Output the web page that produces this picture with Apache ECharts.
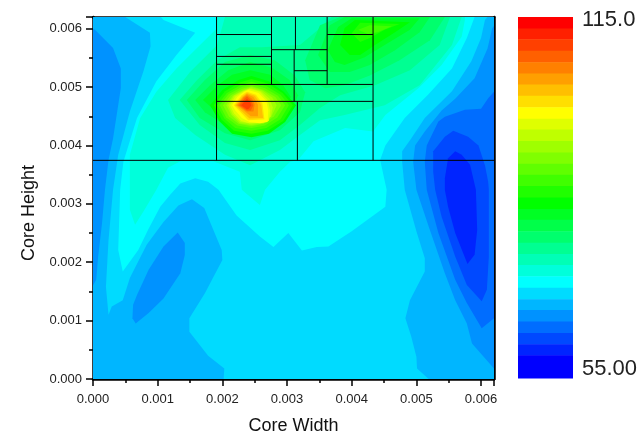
<!DOCTYPE html>
<html><head><meta charset="utf-8">
<style>html,body{margin:0;padding:0;background:#fff}#c{width:640px;height:435px}</style>
<script src="https://cdn.jsdelivr.net/npm/echarts@6/dist/echarts.min.js"></script>
</head><body><div id="c"></div>
<script>
// Colour scale, from the highest band (115) down to the lowest (55)
const bandColors = ['#ff0000','#ff2000','#ff4000','#ff6000','#ff8000','#ff9f00','#ffbf00','#ffdf00','#ffff00',
 '#dfff00','#bfff00','#9fff00','#80ff00','#60ff00','#40ff00','#20ff00','#00ff00',
 '#00ff24','#00ff49','#00ff6d','#00ff92','#00ffb6','#00ffdb','#00ffff',
 '#00dbff','#00b6ff','#0092ff','#006dff','#0049ff','#0024ff','#0000ff'];
const bandTops = [115,113.1,111.3,109.4,107.5,105.6,103.8,101.9,100,98.1,96.3,94.4,92.5,90.6,88.8,86.9,85,83.1,81.3,79.4,77.5,75.6,73.8,71.9,70,68.1,66.3,64.4,62.5,60.6,58.8];
const scaleMin = 55, scaleMax = 115;
const scaleLabels = ['115.0','55.00'];

const axisMax = 0.0062;
const xTitle = 'Core Width', yTitle = 'Core Height';

// Contour regions: vertices as [core width, core height] in units of 0.001, lowest layer first
const base24 = [[0,0],[6.2,0],[6.2,6.2],[0,6.2]];
const left25 = [[0,0],[2.02,0],[2.03,.18],[1.78,.40],[1.49,.81],[1.49,1.04],[1.73,1.47],[2.0,2.04],[1.99,2.21],[1.72,2.93],[1.53,3.08],[1.32,2.97],[1.09,2.69],[.83,2.30],[.57,1.73],[.46,1.35],[.29,1.24],[.24,1.10],[.20,1.58],[.24,2.38],[.31,3.24],[.39,3.84],[.57,4.58],[.78,5.27],[.89,5.70],[.88,5.93],[.57,6.15],[.5,6.2],[0,6.2]];
const left26 = [[0,1.6],[.05,1.7],[.08,2.1],[.14,2.67],[.185,3.24],[.24,3.75],[.31,4.12],[.43,4.98],[.43,5.32],[.31,5.67],[.03,5.98],[0,6.0]];
const island26 = [[1.31,2.51],[1.42,2.33],[1.42,2.13],[1.35,1.81],[1.09,1.38],[.86,1.13],[.66,.95],[.61,1.04],[.62,1.27],[.68,1.44],[.86,1.87],[1.09,2.27]];
const right25 = [[5.19,0],[5.01,.18],[5.0,.38],[4.92,.73],[4.83,1.04],[4.90,1.35],[5.13,1.84],[5.13,2.07],[5.0,2.53],[4.82,3.24],[4.78,3.72],[4.78,3.90],[4.92,4.12],[5.13,4.47],[5.55,4.93],[5.85,5.44],[6.0,5.84],[6.06,6.15],[6.1,6.2],[6.2,6.2],[6.2,0]];
const right26 = [[6.2,.18],[5.86,.61],[5.78,.95],[5.6,1.35],[5.44,1.81],[5.19,2.61],[5.0,3.24],[4.95,3.72],[4.98,4.0],[5.13,4.24],[5.39,4.6],[5.6,4.8],[5.9,5.15],[6.1,5.66],[6.17,6.0],[6.2,6.05]];
const right27 = [[6.01,.87],[6.2,1.04],[6.2,4.92],[6.11,4.81],[6.0,4.63],[5.75,4.61],[5.44,4.49],[5.34,4.41],[5.16,4.0],[5.13,3.72],[5.16,3.24],[5.34,2.5],[5.6,1.7],[5.78,1.3]];
const right28 = [[6.01,1.33],[6.09,1.53],[6.12,2.1],[6.12,3.24],[6.11,3.38],[6.06,3.66],[5.96,4.0],[5.8,4.15],[5.57,4.25],[5.44,4.15],[5.26,3.9],[5.26,3.55],[5.29,3.24],[5.39,2.78],[5.6,2.1],[5.78,1.61]];
const right29 = [[5.79,1.97],[5.9,2.13],[5.94,2.55],[5.92,3.24],[5.83,3.67],[5.7,3.84],[5.6,3.9],[5.49,3.78],[5.44,3.44],[5.44,3.24],[5.49,2.95],[5.6,2.5]];
const band23 = [[.46,1.84],[.39,2.21],[.42,3.24],[.47,3.72],[.68,4.47],[.98,5.1],[1.29,5.55],[1.58,5.93],[1.09,6.15],[1.05,6.2],[5.9,6.2],[5.78,5.84],[5.55,5.32],[5.18,4.87],[4.82,4.47],[4.52,4.0],[4.44,3.75],[4.54,3.24],[4.52,2.95],[4.0,2.53],[3.64,2.27],[3.46,2.26],[3.23,2.2],[3.02,2.5],[2.79,2.26],[2.58,2.44],[2.22,2.8],[1.94,3.24],[1.78,3.38],[1.58,3.44],[1.35,3.35],[1.19,3.15],[1.04,2.95],[.85,2.55],[.70,2.21]];
const band22 = [[.65,2.64],[.78,2.87],[.98,3.24],[1.16,3.62],[1.35,3.73],[1.86,3.73],[2.27,3.55],[2.3,3.24],[2.58,2.98],[2.66,3.24],[2.89,3.55],[3.05,3.72],[3.17,3.75],[3.41,4.07],[3.9,4.3],[4.33,4.24],[4.52,4.52],[5.03,4.98],[5.39,5.38],[5.7,5.86],[5.75,6.15],[5.75,6.2],[1.91,6.2],[1.91,6.0],[1.6,5.66],[1.29,5.32],[.98,4.92],[.73,4.47],[.57,3.84],[.57,3.24],[.57,2.9]];
const band21 = [[1.16,4.78],[1.5,5.26],[1.92,5.72],[2.04,6.2],[5.7,6.2],[5.55,5.72],[5.05,5.03],[4.51,4.69],[3.89,4.52],[3.51,4.43],[3.2,4.18],[2.89,3.92],[2.43,3.66],[2.04,3.84],[1.58,4.18],[1.27,4.47]];
const band20 = [[1.34,4.78],[1.61,5.12],[1.92,5.46],[2.27,5.68],[2.61,5.68],[3.2,5.72],[3.48,5.98],[3.69,6.2],[5.52,6.2],[5.36,5.72],[4.9,5.29],[4.36,5.03],[3.82,4.86],[3.51,4.64],[3.2,4.35],[2.89,4.09],[2.43,3.92],[2.04,4.04],[1.65,4.35]];
const top19 = [[3.28,5.46],[3.51,6.06],[3.82,6.2],[5.44,6.2],[5.21,5.8],[4.74,5.46],[4.28,5.2],[3.89,5.03],[3.59,4.98],[3.35,5.12]];
const top18 = [[3.48,5.55],[3.66,6.06],[3.89,6.2],[5.21,6.2],[5.05,5.94],[4.67,5.63],[4.28,5.38],[3.97,5.26],[3.66,5.26]];
const top17 = [[3.63,5.63],[3.79,6.03],[4.0,6.18],[5.05,6.18],[4.9,5.98],[4.51,5.72],[4.2,5.51],[3.89,5.38],[3.74,5.43]];
const top16 = [[3.82,5.72],[3.89,6.01],[4.05,6.15],[4.9,6.11],[4.67,5.94],[4.36,5.72],[4.13,5.55],[3.97,5.55]];
const top15 = [[4.0,5.92],[4.13,6.1],[4.74,6.08],[4.51,5.98],[4.28,5.84],[4.13,5.77]];
const top14 = [[4.1,5.98],[4.28,6.06],[4.62,6.04],[4.4,5.94],[4.25,5.91]];
const peak19 = [[1.45,4.78],[1.73,5.12],[2.04,5.43],[2.43,5.55],[2.81,5.46],[3.12,5.2],[3.28,4.91],[3.2,4.57],[2.89,4.26],[2.43,4.09],[2.04,4.21],[1.65,4.47]];
const peak18 = [[1.58,4.78],[1.81,5.03],[2.09,5.29],[2.43,5.43],[2.77,5.33],[3.04,5.12],[3.17,4.86],[3.08,4.61],[2.81,4.38],[2.43,4.23],[2.04,4.35],[1.73,4.57]];
const peak17 = [[1.7,4.78],[1.93,5.03],[2.15,5.21],[2.43,5.29],[2.74,5.21],[2.94,5.03],[3.06,4.83],[2.97,4.64],[2.74,4.47],[2.43,4.35],[2.09,4.47],[1.84,4.64]];
const peak16 = [[1.81,4.69],[2.0,4.95],[2.25,5.12],[2.45,5.19],[2.72,5.1],[2.95,4.92],[3.14,4.69],[2.97,4.4],[2.72,4.2],[2.45,4.14],[2.15,4.2],[1.95,4.42]];
const peak15 = [[1.87,4.69],[2.04,4.93],[2.27,5.08],[2.45,5.14],[2.7,5.06],[2.93,4.9],[3.09,4.69],[2.94,4.42],[2.7,4.25],[2.45,4.2],[2.18,4.25],[1.99,4.44]];
const peak14 = [[1.92,4.69],[2.07,4.9],[2.29,5.04],[2.45,5.09],[2.68,5.02],[2.9,4.87],[3.03,4.69],[2.9,4.45],[2.68,4.3],[2.45,4.25],[2.2,4.3],[2.03,4.46]];
const peak13 = [[1.96,4.69],[2.1,4.88],[2.3,5.0],[2.45,5.05],[2.66,4.98],[2.86,4.85],[2.97,4.69],[2.85,4.48],[2.66,4.34],[2.45,4.3],[2.23,4.34],[2.06,4.48]];
const peak12 = [[2.01,4.69],[2.13,4.86],[2.31,4.97],[2.45,5.02],[2.64,4.95],[2.82,4.83],[2.91,4.69],[2.8,4.5],[2.64,4.37],[2.45,4.33],[2.25,4.37],[2.1,4.5]];
const peak11 = [[2.06,4.69],[2.16,4.85],[2.32,4.95],[2.45,5.0],[2.62,4.94],[2.77,4.82],[2.84,4.69],[2.76,4.5],[2.64,4.38],[2.45,4.35],[2.27,4.38],[2.14,4.52]];
const peak10 = [[2.09,4.69],[2.18,4.85],[2.33,4.94],[2.44,4.98],[2.6,4.93],[2.73,4.8],[2.78,4.65],[2.75,4.5],[2.63,4.39],[2.45,4.37],[2.28,4.4],[2.16,4.53]];
const peak9 = [[2.12,4.69],[2.2,4.84],[2.33,4.93],[2.42,4.97],[2.58,4.92],[2.7,4.78],[2.74,4.6],[2.72,4.42],[2.6,4.4],[2.42,4.38],[2.29,4.42],[2.18,4.55]];
const peak8 = [[2.15,4.69],[2.23,4.83],[2.34,4.92],[2.4,4.95],[2.56,4.9],[2.68,4.76],[2.71,4.6],[2.7,4.4],[2.58,4.38],[2.42,4.4],[2.3,4.47],[2.2,4.6]];
const peak7 = [[2.18,4.69],[2.3,4.86],[2.38,4.92],[2.52,4.87],[2.62,4.72],[2.65,4.45],[2.4,4.43]];
const peak6 = [[2.2,4.69],[2.31,4.84],[2.38,4.9],[2.5,4.85],[2.6,4.7],[2.63,4.47],[2.42,4.46]];
const peak5 = [[2.22,4.69],[2.32,4.83],[2.38,4.88],[2.48,4.83],[2.55,4.7],[2.55,4.5],[2.44,4.5],[2.33,4.6]];
const peak4 = [[2.24,4.69],[2.33,4.82],[2.38,4.86],[2.46,4.8],[2.5,4.7],[2.48,4.58],[2.38,4.58]];
const peak3 = [[2.26,4.69],[2.34,4.8],[2.38,4.84],[2.44,4.78],[2.48,4.69],[2.44,4.6],[2.38,4.6]];
const peak2 = [[2.29,4.69],[2.35,4.76],[2.38,4.8],[2.43,4.74],[2.45,4.69],[2.41,4.63],[2.38,4.62]];

// Black partition segments [x1,y1,x2,y2], same units
const partitionLines = [[0,3.745,6.2,3.745],[1.91,3.745,1.91,6.2],[4.33,3.745,4.33,6.2],[1.91,5.90,2.76,5.90],[1.91,5.525,2.76,5.525],[1.91,5.39,2.76,5.39],[1.91,5.045,4.33,5.045],[1.91,4.755,4.33,4.755],[2.76,5.045,2.76,6.2],[2.76,5.64,3.62,5.64],[3.13,5.64,3.13,6.2],[3.11,4.755,3.11,5.64],[3.62,5.045,3.62,6.2],[3.11,5.28,3.62,5.28],[3.62,5.90,4.33,5.90],[3.16,3.745,3.16,4.755]];

const layers = [[24,base24],[25,left25],[26,left26],[26,island26],[25,right25],[26,right26],[27,right27],[28,right28],[29,right29],
 [23,band23],[22,band22],[21,band21],[20,band20],[19,top19],[18,top18],[17,top17],[16,top16],[15,top15],[14,top14],
 [19,peak19],[18,peak18],[17,peak17],[16,peak16],[15,peak15],[14,peak14],[13,peak13],[12,peak12],[11,peak11],[10,peak10],[9,peak9],[8,peak8],[7,peak7],[6,peak6],[5,peak5],[4,peak4],[3,peak3],[2,peak2]];

const scale = 0.001;
const fmt = v => v.toFixed(3);
const labelFont = {fontFamily:'Liberation Sans',fontSize:13,color:'#222'};
const nameFont = {fontFamily:'Liberation Sans',fontSize:18,color:'#111'};
const frameLine = {show:true,onZero:false,lineStyle:{color:'#000',width:2.5}};
const axisBase = {type:'value',min:0,max:axisMax,interval:0.001,
  axisLine:frameLine,
  axisTick:{show:true,length:7,lineStyle:{color:'#000',width:1.5}},
  minorTick:{show:true,splitNumber:2,length:4,lineStyle:{color:'#000',width:1.5}},
  splitLine:{show:false},minorSplitLine:{show:false},
  nameLocation:'middle'};
const tickLabels = m => Object.assign({formatter:fmt,showMaxLabel:false,margin:m},labelFont);
const frameAxis = pos => ({gridIndex:0,type:'value',min:0,max:axisMax,position:pos,axisLine:frameLine,axisTick:{show:false},axisLabel:{show:false},splitLine:{show:false}});

const chart = echarts.init(document.getElementById('c'),null,{renderer:'canvas'});
chart.setOption({
  animation:false,backgroundColor:'#fff',
  grid:[{left:93,top:17,right:146,bottom:56,outerBoundsMode:'none'},{left:518,top:17,width:55,height:361,outerBoundsMode:'none'}],
  xAxis:[Object.assign({},axisBase,{name:xTitle,nameGap:38,nameTextStyle:nameFont,axisLabel:tickLabels(14)}),
         {gridIndex:1,type:'value',min:0,max:1,show:false},
         frameAxis('top')],
  yAxis:[Object.assign({},axisBase,{name:yTitle,nameGap:55,nameTextStyle:Object.assign({padding:[0,30,0,0]},nameFont),axisLabel:tickLabels(11)}),
         {gridIndex:1,type:'value',min:scaleMin,max:scaleMax,show:false},
         frameAxis('right')],
  graphic:[
    {type:'text',left:582,top:9,style:{text:scaleLabels[0],font:'22px "Liberation Sans"',fill:'#222'}},
    {type:'text',left:582,top:358,style:{text:scaleLabels[1],font:'22px "Liberation Sans"',fill:'#222'}}
  ],
  series:[
    {type:'custom',xAxisIndex:0,yAxisIndex:0,clip:true,silent:true,z:1,
     data:layers.map((l,i)=>[i]),encode:{x:[],y:[]},
     renderItem:(p,api)=>{const l=layers[p.dataIndex];
       return {type:'polygon',shape:{points:l[1].map(q=>api.coord([q[0]*scale,q[1]*scale]))},style:{fill:bandColors[l[0]],stroke:null}};}},
    {type:'custom',xAxisIndex:0,yAxisIndex:0,clip:true,silent:true,z:2,
     data:partitionLines.map((l,i)=>[i]),encode:{x:[],y:[]},
     renderItem:(p,api)=>{const l=partitionLines[p.dataIndex];
       const a=api.coord([l[0]*scale,l[1]*scale]),b=api.coord([l[2]*scale,l[3]*scale]);
       return {type:'line',shape:{x1:a[0],y1:a[1],x2:b[0],y2:b[1]},style:{stroke:'#000',lineWidth:1}};}},
    {type:'custom',xAxisIndex:1,yAxisIndex:1,silent:true,
     data:bandTops.map((t,i)=>[i]),encode:{x:[],y:[]},
     renderItem:(p,api)=>{const i=p.dataIndex;const lo=i+1<bandTops.length?bandTops[i+1]:scaleMin;
       const a=api.coord([0,bandTops[i]]),b=api.coord([1,lo]);
       return {type:'rect',shape:{x:a[0],y:a[1],width:b[0]-a[0],height:b[1]-a[1]+0.5},style:{fill:bandColors[i]}};}}
  ]
});
</script></body></html>
